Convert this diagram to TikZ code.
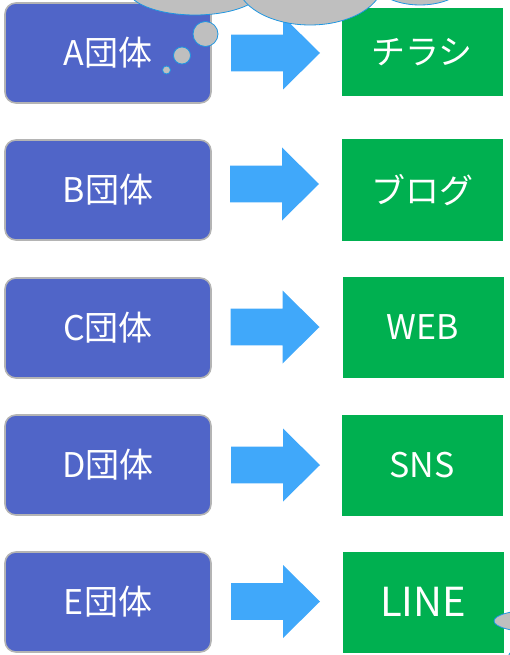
\documentclass[tikz,border=0pt]{standalone}
\usepackage{fontspec}
\setmainfont{Noto Sans CJK JP}
\usetikzlibrary{calc}
\definecolor{groupblue}{RGB}{80,101,200}
\definecolor{groupedge}{RGB}{180,180,180}
\definecolor{mediagreen}{RGB}{0,176,80}
\definecolor{arrowblue}{RGB}{64,168,250}
\definecolor{cloudgray}{RGB}{191,191,191}
\definecolor{cloudedge}{RGB}{30,150,225}
\tikzset{
  groupbox/.style={draw=groupedge, line width=1.6pt, fill=groupblue, rounded corners=11pt,
    minimum width=206pt, minimum height=100pt, inner sep=0pt, text=white,
    font=\fontsize{34}{36}\selectfont},
  mediabox/.style={fill=mediagreen, minimum width=161pt, minimum height=101pt, inner sep=0pt,
    text=white, font=\fontsize{34}{36}\selectfont},
  blockarrow/.style={fill=arrowblue},
  cloudpart/.style={fill=cloudgray, draw=cloudedge, line width=0.8pt},
}
% block arrow centred on a coordinate: shaft 37pt wide, head 73pt wide and 37pt long
\newcommand{\blockarrowat}[1]{%
  \fill[blockarrow] ($(#1)+(-44.5,-18.3)$) -- ($(#1)+(7.5,-18.3)$) -- ($(#1)+(7.5,-36.5)$)
    -- ($(#1)+(44.5,0)$) -- ($(#1)+(7.5,36.5)$) -- ($(#1)+(7.5,18.3)$)
    -- ($(#1)+(-44.5,18.3)$) -- cycle;}
\begin{document}
\begin{tikzpicture}[x=1pt,y=-1pt]
  \useasboundingbox (0,0) rectangle (510,655);
  % groups
  \node[groupbox] (ga) at (108,53) {A団体};
  \node[groupbox] (gb) at (108,190) {B団体};
  \node[groupbox] (gc) at (108,328) {C団体};
  \node[groupbox] (gd) at (108,465) {D団体};
  \node[groupbox] (ge) at (108,602) {E団体};
  % media
  \node[mediabox, minimum height=88pt] (ma) at (422,52) {チラシ};
  \node[mediabox] (mb) at (422,190) {ブログ};
  \node[mediabox] (mc) at (423,327) {WEB};
  \node[mediabox] (md) at (422,465) {SNS};
  \node[mediabox, font=\fontsize{40}{42}\selectfont] (me) at (423,602) {LINE};
  % block arrows between group and medium
  \coordinate (aa) at (275.5,53);
  \coordinate (ab) at (274.5,184);
  \coordinate (ac) at (275,327);
  \coordinate (ad) at (275.5,465);
  \coordinate (ae) at (275.5,601.5);
  \blockarrowat{aa}
  \blockarrowat{ab}
  \blockarrowat{ac}
  \blockarrowat{ad}
  \blockarrowat{ae}
  % thought cloud at the top
  \begin{scope}
    \clip (0,0) rectangle (510,655);
    \draw[cloudpart] (195,-12) ellipse [x radius=68, y radius=27];
    \draw[cloudpart] (420,-22) ellipse [x radius=48, y radius=27];
    \draw[cloudpart] (310,-18) ellipse [x radius=73, y radius=43];
    \draw[cloudpart] (205.5,34) circle [radius=12.5];
    \draw[cloudpart] (182,55.5) circle [radius=8.5];
    \draw[cloudpart] (166.5,70) circle [radius=4];
    % second cloud at the lower right
    \draw[cloudpart] (535,621) ellipse [x radius=41, y radius=11];
    \draw[cloudpart] (522,662) circle [radius=15];
  \end{scope}
\end{tikzpicture}
\end{document}
